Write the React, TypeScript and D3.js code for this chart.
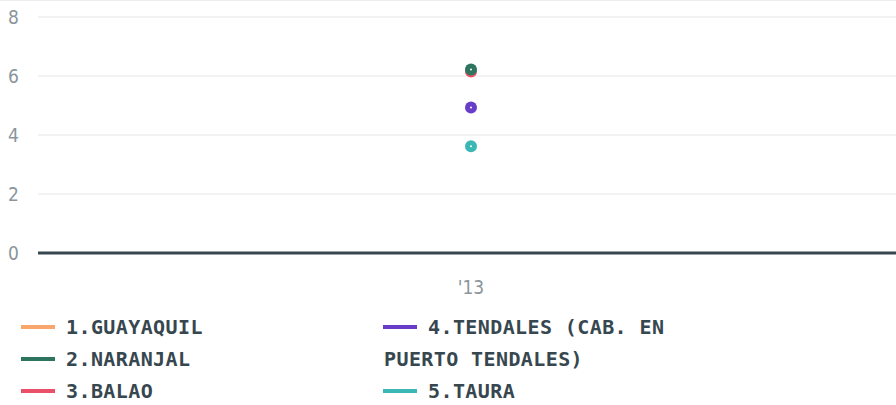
import { useEffect, useRef } from 'react';
import * as d3 from 'd3';

const categories = ["'13"];
const seriesNames = [
  '1.GUAYAQUIL',
  '2.NARANJAL',
  '3.BALAO',
  '4.TENDALES (CAB. EN PUERTO TENDALES)',
  '5.TAURA',
];
const seriesColors = ['#f9a66c', '#2e7560', '#ea4f68', '#6a3dc8', '#3bb8b5'];
// one value per category, null = no point
const seriesValues: (number | null)[][] = [[null], [6.22], [6.15], [4.93], [3.62]];
const yTicks = [0, 2, 4, 6, 8];

const W = 896;
const H = 405;

const App = () => {
  const ref = useRef<SVGSVGElement>(null);

  useEffect(() => {
    const svg = d3.select(ref.current);
    svg.selectAll('*').remove();

    const margin = { top: 17, left: 38, bottom: 153 };
    const plotRight = 904;
    const y = d3.scaleLinear().domain([0, 8]).range([H - margin.bottom + 1, margin.top]);
    const x = d3.scalePoint().domain(categories).range([margin.left, plotRight]).padding(0.5);

    // top frame line
    svg.append('line')
      .attr('x1', 0).attr('x2', W).attr('y1', 0.5).attr('y2', 0.5)
      .attr('stroke', '#eeeeee');

    // grid
    const grid = svg.append('g');
    grid.selectAll('line')
      .data(yTicks.filter((d) => d !== 0))
      .enter()
      .append('line')
      .attr('x1', margin.left).attr('x2', W)
      .attr('y1', (d) => y(d)).attr('y2', (d) => y(d))
      .attr('stroke', '#e6e6e6')
      .attr('stroke-width', 1);

    // y labels
    svg.append('g')
      .selectAll('text')
      .data(yTicks)
      .enter()
      .append('text')
      .attr('x', 8)
      .attr('y', (d) => y(d))
      .attr('dy', '0.35em')
      .style('font', '19px "DejaVu Sans Condensed", "DejaVu Sans", sans-serif')
      .attr('fill', '#8a959c')
      .text((d) => d);

    // baseline
    svg.append('line')
      .attr('x1', margin.left).attr('x2', W)
      .attr('y1', y(0)).attr('y2', y(0))
      .attr('stroke', '#37474f')
      .attr('stroke-width', 3);

    // x labels
    svg.append('g')
      .selectAll('text')
      .data(categories)
      .enter()
      .append('text')
      .attr('x', (d) => x(d)!)
      .attr('y', y(0) + 41)
      .attr('text-anchor', 'middle')
      .style('font', '19px "DejaVu Sans Condensed", "DejaVu Sans", sans-serif')
      .attr('fill', '#8a959c')
      .text((d) => d);

    // points (draw in reverse so earlier series on top)
    const pts = svg.append('g');
    seriesValues
      .map((vals, i) => ({ vals, i }))
      .reverse()
      .forEach(({ vals, i }) => {
        vals.forEach((v, j) => {
          if (v == null) return;
          const cx = x(categories[j])!;
          pts.append('circle')
            .attr('cx', cx).attr('cy', y(v)).attr('r', 6)
            .attr('fill', seriesColors[i]);
          pts.append('circle')
            .attr('cx', cx).attr('cy', y(v)).attr('r', 1)
            .attr('fill', '#ffffff');
        });
      });

    // legend
    const legend = svg.append('g');
    const cols = [
      { swatch: 21, text: 66 },
      { swatch: 383, text: 428 },
    ];
    const colRight = [360, 690];
    const lineH = 32;
    const colRow = [0, 0];
    const startY = 327;
    seriesNames.forEach((name, i) => {
      const c = i < 3 ? 0 : 1;
      const cy = startY + colRow[c] * lineH;
      legend.append('line')
        .attr('x1', cols[c].swatch).attr('x2', cols[c].swatch + 34)
        .attr('y1', cy).attr('y2', cy)
        .attr('stroke', seriesColors[i])
        .attr('stroke-width', 4);
      const t = legend.append('text')
        .style('font', 'bold 20px "DejaVu Sans Mono", monospace')
        .style('letter-spacing', '0.4px')
        .attr('fill', '#37474f');
      // simple word wrap
      const words = name.split(' ');
      let line: string[] = [];
      let lineX = cols[c].text;
      let lineY = cy;
      let ts = t.append('tspan').attr('x', lineX).attr('y', lineY).attr('dy', '0.35em');
      words.forEach((w) => {
        line.push(w);
        ts.text(line.join(' '));
        const len = (ts.node() as SVGTSpanElement).getComputedTextLength();
        if (len > colRight[c] - lineX && line.length > 1) {
          line.pop();
          ts.text(line.join(' '));
          line = [w];
          lineX = cols[c].swatch + 1;
          lineY += lineH;
          colRow[c] += 1;
          ts = t.append('tspan').attr('x', lineX).attr('y', lineY).attr('dy', '0.35em').text(w);
        }
      });
      colRow[c] += 1;
    });
  }, []);

  return (
    <div style={{ position: 'absolute', left: 0, top: 0 }}>
      <svg width={W} height={H} ref={ref} style={{ display: 'block', background: '#fff' }} />
    </div>
  );
};

export default App;
